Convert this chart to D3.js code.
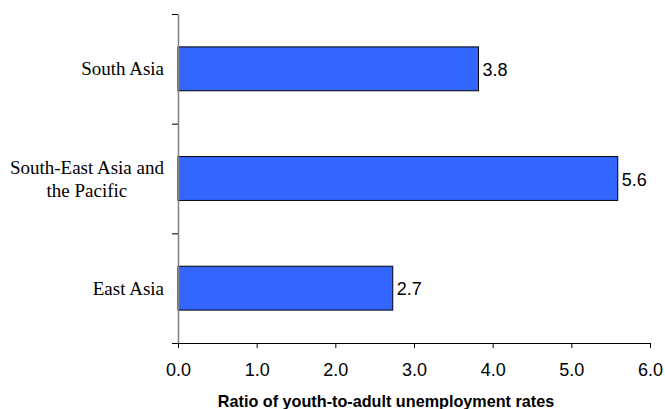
<!DOCTYPE html>
<html><head><meta charset="utf-8">
<script src="https://cdn.jsdelivr.net/npm/d3@7"></script>
<style>body{margin:0;background:#fff}svg{display:block}</style>
</head><body>
<svg id="c" width="665" height="409"></svg>
<script>
const categories = [["South Asia"], ["South-East Asia and", "the Pacific"], ["East Asia"]];
const values = [3.82, 5.59, 2.73];
const valueLabels = ["3.8", "5.6", "2.7"];
const xTicks = [0, 1, 2, 3, 4, 5, 6];
const axisTitle = "Ratio of youth-to-adult unemployment rates";

const svg = d3.select("#c");
const m = {left: 178, right: 650, top: 14, bottom: 343};
const x = d3.scaleLinear().domain([0, 6]).range([m.left, m.right]);
const y = d3.scaleBand().domain(d3.range(categories.length)).range([m.top, m.bottom]).paddingInner(0.6).paddingOuter(0.3);
const yb = d3.scaleLinear().domain([0, categories.length]).range([m.top, m.bottom]);

// bars
svg.selectAll("rect.bar").data(values).join("rect")
  .attr("x", x(0)).attr("y", (d,i) => y(i))
  .attr("width", d => x(d) - x(0)).attr("height", y.bandwidth())
  .attr("fill", "#3366FF").attr("stroke", "#000").attr("stroke-width", 1);

// value labels
svg.selectAll("text.val").data(values).join("text")
  .attr("x", d => x(d) + 4).attr("y", (d,i) => y(i) + y.bandwidth()/2)
  .attr("dy", "0.4em").attr("font-family", "Arial, Liberation Sans, sans-serif")
  .attr("font-size", 18).text((d,i) => valueLabels[i]);

// x axis
const xa = svg.append("g").attr("transform", `translate(0,${m.bottom})`)
  .call(d3.axisBottom(x).tickValues(xTicks).tickFormat(d3.format(".1f")).tickSize(5).tickPadding(15).tickSizeOuter(0));
xa.select(".domain").attr("stroke", "#000");
xa.selectAll("line").attr("stroke", "#000");
xa.selectAll("text").attr("font-family", "Arial, Liberation Sans, sans-serif").attr("font-size", 18).attr("fill", "#000");

// y axis
const ya = svg.append("g").attr("transform", `translate(${m.left},0)`)
  .call(d3.axisLeft(yb).tickValues(d3.range(categories.length + 1)).tickFormat("").tickSize(6).tickSizeOuter(0));
ya.select(".domain").attr("stroke", "#808080").attr("stroke-width", 1.5);
ya.selectAll("line").attr("stroke", "#000");

// category labels (multi-line labels centred on each other, block right-aligned)
categories.forEach((lines, i) => {
  const cy = y(i) + y.bandwidth()/2;
  const g = svg.append("g");
  const ts = lines.map((l, j) => g.append("text")
    .attr("font-family", "Liberation Serif, Times New Roman, serif").attr("font-size", 19).attr("fill", "#000")
    .attr("y", cy + (j - (lines.length - 1)/2) * 23).attr("dy", "0.35em").text(l));
  const widths = ts.map(t => t.node().getComputedTextLength());
  const maxW = d3.max(widths);
  const center = 164 - maxW / 2;
  ts.forEach(t => t.attr("x", center).attr("text-anchor", "middle"));
});

// axis title
svg.append("text").attr("x", 386).attr("y", 407).attr("text-anchor", "middle")
  .attr("font-family", "Arial, Liberation Sans, sans-serif").attr("font-weight", "bold").attr("font-size", 16.2)
  .text(axisTitle);
</script>
</body></html>
